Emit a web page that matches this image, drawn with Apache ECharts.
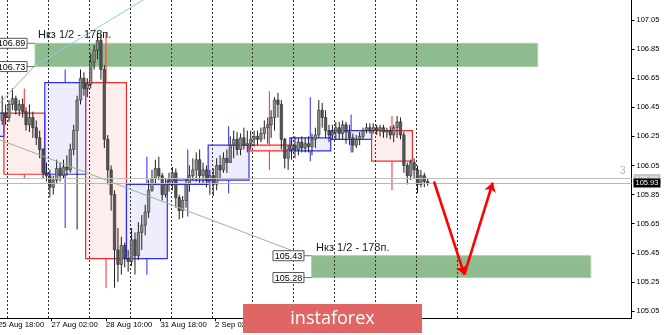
<!DOCTYPE html>
<html><head><meta charset="utf-8">
<script src="https://cdn.jsdelivr.net/npm/echarts@6/dist/echarts.min.js"></script>
<style>html,body{margin:0;padding:0;background:#fff}#c{width:665px;height:335px}</style>
</head><body><div id="c"></div>
<script>
// Time axis: trading hours counted from 25 Aug 18:00 (weekend skipped)
const xTickHours  = [0, 32, 64, 96, 128, 160, 192, 224];
const xTickLabels = ['25 Aug 18:00','27 Aug 02:00','28 Aug 10:00','31 Aug 18:00','2 Sep 02:00','3 Sep 10:00','4 Sep 18:00','8 Sep 02:00'];
const dayGridHours = [6, 30, 54, 78, 102, 126, 150, 174, 198, 222, 246, 270];
const yTickValues = [105.05,105.25,105.45,105.65,105.85,106.05,106.25,106.45,106.65,106.85,107.05];

// 2-hour candles (first one centred at hour 3)
const firstCandleHour = 3;
const candleO = [106.36,106.41,106.38,106.47,106.51,106.43,106.47,106.42,106.33,106.38,
106.31,106.24,106.16,106.00,105.98,105.90,105.95,106.03,105.98,106.04,
106.02,106.16,106.29,106.50,106.65,106.58,106.61,106.76,106.84,106.91,
106.71,106.23,106.02,105.85,105.47,105.37,105.50,105.41,105.39,105.54,
105.43,105.59,105.64,105.73,105.88,105.96,106.03,105.98,105.85,105.92,
105.94,106.00,105.83,105.74,105.81,105.92,105.98,106.02,106.09,105.98,
106.02,105.95,105.98,105.92,106.05,106.02,106.10,106.07,106.19,106.23,
106.16,106.24,106.19,106.20,106.23,106.25,106.23,106.27,106.31,106.33,
106.38,106.50,106.47,106.23,106.10,106.16,106.19,106.16,106.21,106.17,
106.20,106.18,106.23,106.26,106.43,106.38,106.29,106.26,106.28,106.31,
106.27,106.33,106.28,106.24,106.19,106.23,106.25,106.29,106.31,106.29,
106.31,106.29,106.31,106.28,106.29,106.26,106.31,106.35,106.26,106.05,
105.98,106.07,106.02,105.92,105.98,105.94];
const candleC = [106.41,106.38,106.47,106.51,106.43,106.47,106.42,106.33,106.38,106.31,
106.24,106.16,106.00,105.98,105.90,105.95,106.03,105.98,106.04,106.02,
106.16,106.29,106.50,106.65,106.58,106.61,106.76,106.84,106.91,106.71,
106.23,106.02,105.85,105.47,105.37,105.50,105.41,105.39,105.54,105.43,
105.59,105.64,105.73,105.88,105.96,106.03,105.98,105.85,105.92,105.94,
106.00,105.83,105.74,105.81,105.92,105.98,106.02,106.09,105.98,106.02,
105.95,105.98,105.92,106.05,106.02,106.10,106.07,106.19,106.23,106.16,
106.24,106.19,106.20,106.23,106.25,106.23,106.27,106.31,106.33,106.38,
106.50,106.47,106.23,106.10,106.16,106.19,106.16,106.21,106.17,106.20,
106.18,106.23,106.26,106.43,106.38,106.29,106.26,106.28,106.31,106.27,
106.33,106.28,106.24,106.19,106.23,106.25,106.29,106.31,106.29,106.31,
106.29,106.31,106.28,106.29,106.26,106.31,106.35,106.26,106.05,105.98,
106.07,106.02,105.92,105.98,105.94,105.93];
const candleH = [106.53,106.47,106.50,106.58,106.53,106.50,106.51,106.45,106.47,106.42,
106.36,106.29,106.17,106.07,106.02,105.98,106.09,106.07,106.09,106.12,
106.20,106.33,106.53,106.71,106.69,106.65,106.82,106.88,106.96,106.95,
106.74,106.26,106.05,105.88,105.62,105.56,105.52,105.47,105.62,105.59,
105.66,105.71,105.78,105.95,106.02,106.09,106.11,106.00,105.96,106.00,
106.04,106.03,105.85,105.84,105.96,106.05,106.10,106.14,106.16,106.07,
106.05,106.02,106.03,106.10,106.12,106.14,106.16,106.25,106.29,106.28,
106.27,106.31,106.29,106.29,106.29,106.29,106.31,106.36,106.38,106.43,
106.52,106.55,106.50,106.24,106.19,106.24,106.25,106.24,106.25,106.24,
106.25,106.27,106.31,106.50,106.48,106.43,106.33,106.33,106.35,106.35,
106.36,106.35,106.33,106.27,106.26,106.28,106.31,106.34,106.34,106.34,
106.33,106.33,106.33,106.31,106.32,106.33,106.39,106.38,106.28,106.07,
106.09,106.10,106.05,106.02,106.00,105.96];
const candleL = [106.33,106.33,106.35,106.43,106.40,106.39,106.38,106.29,106.28,106.24,
106.19,106.10,105.96,105.94,105.83,105.85,105.93,105.94,105.96,105.98,
106.00,106.12,105.61,106.47,106.53,106.52,106.58,106.71,106.78,106.64,
106.17,105.92,105.74,105.21,105.25,105.30,105.35,105.32,105.36,105.30,
105.40,105.47,105.57,105.69,105.87,105.92,105.95,105.81,105.83,105.87,
105.88,105.76,105.68,105.69,105.76,105.87,105.95,105.94,105.93,105.92,
105.90,105.85,105.84,105.88,105.96,106.00,106.00,106.07,106.10,106.12,
106.12,106.16,106.14,106.16,106.18,106.19,106.21,106.23,106.20,106.24,
106.29,106.38,106.16,106.03,106.02,106.09,106.10,106.12,106.14,106.14,
106.14,106.12,106.17,106.24,106.31,106.24,106.21,106.23,106.23,106.23,
106.23,106.20,106.19,106.14,106.17,106.19,106.23,106.27,106.27,106.27,
106.26,106.25,106.24,106.24,106.23,106.21,106.24,106.23,106.00,105.92,
105.95,105.96,105.86,105.90,105.90,105.91];

// Daily candles overlay (start hour, 24 h long)
const dayStart = [-20, 4, 28, 52, 76, 100, 124, 148, 172, 196, 220];
const dayOpen  = [106.25,106.41,105.99,106.62,105.41,105.92,105.95,106.19,106.15,106.23,106.29];
const dayClose = [106.41,105.99,106.62,105.41,105.92,105.95,106.19,106.15,106.24,106.29,106.08];
const dayHigh  = [106.50,106.58,106.71,106.96,106.11,106.16,106.32,106.56,106.52,106.40,106.39];
const dayLow   = [106.10,105.96,105.62,105.21,105.30,105.70,105.86,106.02,106.08,106.14,105.88];

// Target zones
const zoneStart = [22.3, 184.8];
const zoneEnd   = [317.6, 348.8];
const zoneLow   = [106.73, 105.28];
const zoneHigh  = [106.89, 105.43];

// Price tags
const tagPrice = [106.89, 106.73, 105.43, 105.28];
const tagHour  = [17.6, 17.6, 180.3, 180.3];
const tagLink  = [22.3, 22.3, 184.8, 184.8];

// Notes
const noteText  = ['Нкз 1/2 - 178п.', 'Нкз 1/2 - 178п.'];
const noteHour  = [24.0, 187.4];
const notePrice = [106.95, 105.482];

// Trend lines
const greenLines = [[[1.7, 106.226],[180.3, 105.435]], [[1.7, 106.48],[21.7, 106.73]]];
const blueLines  = [[[21.7, 106.73],[85.7, 107.1875]]];
const arrowLines = [[[256.7, 105.94],[274.5, 105.30]], [[274.5, 105.30],[291.2, 105.932]]];

const askPrice = 105.96, bidPrice = 105.93;

const FONT = 'Liberation Sans';
const X_MIN = 1.7, X_MAX = 372.73;
const chart = echarts.init(document.getElementById('c'), null, {renderer: 'canvas'});

const candleData = candleO.map((o, i) => [firstCandleHour + 2 * i, o, candleC[i], candleL[i], candleH[i]]);
const dayData = dayStart.map((s, i) => [s, s + 24, dayOpen[i], dayClose[i], dayHigh[i], dayLow[i]]);
const zoneData = zoneStart.map((s, i) => [s, zoneEnd[i], zoneLow[i], zoneHigh[i]]);
const tagData = tagPrice.map((p, i) => [tagHour[i], p, tagLink[i]]);
const noteData = noteText.map((t, i) => [noteHour[i], notePrice[i]]);

const option = {
  animation: false,
  backgroundColor: '#fff',
  grid: {left: 0, right: 33.5, top: 0, bottom: 16.7},
  xAxis: {
    type: 'value', min: X_MIN, max: X_MAX,
    axisLine: {show: true, lineStyle: {color: '#000', width: 1}},
    axisTick: {show: true, customValues: xTickHours.slice(1), length: 3, lineStyle: {color: '#000'}},
    axisLabel: {show: true, customValues: xTickHours.slice(1), align: 'left', margin: 3,
      formatter: v => xTickLabels[xTickHours.indexOf(v)] || '',
      fontSize: 7.8, fontFamily: FONT, color: '#000'},
    splitLine: {show: false}
  },
  yAxis: {
    type: 'value', position: 'right', min: 105.0, max: 107.1875,
    axisLine: {show: true, lineStyle: {color: '#000', width: 1}},
    axisTick: {show: true, customValues: yTickValues, length: 3, lineStyle: {color: '#000'}},
    axisLabel: {show: true, customValues: yTickValues, margin: 5,
      formatter: v => v.toFixed(2), fontSize: 7.5, fontFamily: FONT, color: '#000'},
    splitLine: {show: false}
  },
  series: [
    { // green zones
      type: 'custom', z: 1, clip: true, data: zoneData, encode: {x: [0, 1], y: [2, 3]},
      renderItem: (params, api) => {
        const a = api.coord([api.value(0), api.value(3)]);
        const b = api.coord([api.value(1), api.value(2)]);
        return {type: 'rect', shape: {x: a[0], y: a[1], width: b[0] - a[0], height: b[1] - a[1]},
          style: {fill: '#8fbc8f', stroke: '#aacfaa', lineWidth: 1}};
      }
    },
    { // daily candles
      type: 'custom', z: 2, clip: true, data: dayData, encode: {x: [0, 1], y: [2, 3, 4, 5]},
      renderItem: (params, api) => {
        const s = api.value(0), e = api.value(1), o = api.value(2), c = api.value(3), h = api.value(4), l = api.value(5);
        const bull = c >= o;
        const top = Math.max(o, c), bot = Math.min(o, c), mid = (s + e) / 2;
        const p1 = api.coord([s, top]), p2 = api.coord([e, bot]);
        const ph = api.coord([mid, h]), pt = api.coord([mid, top]), pb = api.coord([mid, bot]), pl = api.coord([mid, l]);
        const stroke = bull ? '#2f2ff5' : '#f02c2c';
        const wick = bull ? '#4a4aff' : '#ff4a4a';
        const fill = bull ? 'rgba(60,60,240,0.09)' : 'rgba(240,60,60,0.09)';
        return {type: 'group', children: [
          {type: 'line', shape: {x1: ph[0], y1: ph[1], x2: pt[0], y2: pt[1]}, style: {stroke: wick, lineWidth: 1.2}},
          {type: 'line', shape: {x1: pb[0], y1: pb[1], x2: pl[0], y2: pl[1]}, style: {stroke: wick, lineWidth: 1.2}},
          {type: 'rect', shape: {x: p1[0], y: p1[1], width: p2[0] - p1[0], height: Math.max(1, p2[1] - p1[1])},
            style: {fill: fill, stroke: stroke, lineWidth: 1.2}}
        ]};
      }
    },
    { // day grid lines (dotted)
      type: 'custom', z: 3, clip: true, data: dayGridHours.map(h => [h]), encode: {x: 0},
      renderItem: (params, api) => {
        const cs = params.coordSys;
        const p = api.coord([api.value(0), 106]);
        const x = Math.round(p[0]) + 0.5;
        return {type: 'line', shape: {x1: x, y1: cs.y, x2: x, y2: cs.y + cs.height},
          style: {stroke: '#333', lineWidth: 1, lineDash: [2, 2]}};
      }
    },
    { // candles
      type: 'custom', z: 4, clip: true, data: candleData, encode: {x: 0, y: [1, 2, 3, 4]},
      renderItem: (params, api) => {
        const t = api.value(0), o = api.value(1), c = api.value(2), l = api.value(3), h = api.value(4);
        const pO = api.coord([t, o]), pC = api.coord([t, c]), pL = api.coord([t, l]), pH = api.coord([t, h]);
        const w = api.size([2, 0])[0] * 0.72;
        const bull = c >= o;
        return {type: 'group', children: [
          {type: 'line', shape: {x1: pH[0], y1: pH[1], x2: pL[0], y2: pL[1]}, style: {stroke: '#1e1e1e', lineWidth: 1}},
          {type: 'rect', shape: {x: pO[0] - w / 2, y: Math.min(pO[1], pC[1]), width: w, height: Math.max(1, Math.abs(pO[1] - pC[1]))},
            style: {fill: bull ? '#8e8e8e' : '#555', stroke: '#2a2a2a', lineWidth: 0.6}}
        ]};
      }
    },
    { // green trend lines
      type: 'lines', coordinateSystem: 'cartesian2d', z: 5, polyline: false,
      data: greenLines.map(c => ({coords: c})),
      lineStyle: {color: '#8fbc8f', width: 1, opacity: 1}, symbol: 'none'
    },
    { // light blue trend line
      type: 'lines', coordinateSystem: 'cartesian2d', z: 5, polyline: false,
      data: blueLines.map(c => ({coords: c})),
      lineStyle: {color: '#87ceeb', width: 1, opacity: 1}, symbol: 'none'
    },
    { // red forecast arrows
      type: 'lines', coordinateSystem: 'cartesian2d', z: 6, polyline: false,
      data: arrowLines.map(c => ({coords: c})),
      lineStyle: {color: '#ff0000', width: 2.6, opacity: 1},
      symbol: ['none', 'arrow'], symbolSize: 9
    },
    { // bid / ask lines
      type: 'line', z: 6, data: [], silent: true,
      markLine: {
        silent: true, symbol: 'none', animation: false,
        data: [
          {yAxis: askPrice, lineStyle: {color: '#c0c0c0', type: 'solid', width: 1},
            label: {show: true, position: 'end', distance: 2, formatter: askPrice.toFixed(2),
              backgroundColor: '#c4c4c4', color: '#f4f4f4', padding: [1, 2, 0, 2], fontSize: 7.5, fontFamily: FONT}},
          {yAxis: bidPrice, lineStyle: {color: '#b8b8b8', type: 'solid', width: 1},
            label: {show: true, position: 'end', distance: 2, formatter: bidPrice.toFixed(2),
              backgroundColor: '#000', color: '#fff', padding: [1, 2, 0, 2], fontSize: 7.5, fontFamily: FONT}}
        ]
      }
    },
    { // price tags with leader lines
      type: 'custom', z: 7, clip: false, data: tagData, encode: {x: 0, y: 1},
      renderItem: (params, api) => {
        const p = api.coord([api.value(0), api.value(1)]);
        const q = api.coord([api.value(2), api.value(1)]);
        return {type: 'group', children: [
          {type: 'line', shape: {x1: p[0], y1: p[1], x2: q[0], y2: q[1]}, style: {stroke: '#707070', lineWidth: 1}},
          {type: 'rect', shape: {x: p[0] - 31, y: p[1] - 5, width: 31, height: 10},
            style: {fill: '#fff', stroke: '#555', lineWidth: 1}},
          {type: 'text', x: p[0] - 15.5, y: p[1] + 0.5,
            style: {text: api.value(1).toFixed(2), fill: '#000', fontSize: 9, fontFamily: FONT, align: 'center', verticalAlign: 'middle'}}
        ]};
      }
    },
    { // notes
      type: 'custom', z: 7, clip: false, data: noteData, encode: {x: 0, y: 1},
      renderItem: (params, api) => {
        const p = api.coord([api.value(0), api.value(1)]);
        return {type: 'text', x: p[0], y: p[1],
          style: {text: noteText[params.dataIndex], fill: '#1a1a1a', fontSize: 11, fontFamily: FONT, align: 'left', verticalAlign: 'middle'}};
      }
    }
  ],
  graphic: [
    // first time label lies left of the visible range, partly cut by the edge
    {type: 'text', x: (xTickHours[0] - X_MIN) * (631.5 / (X_MAX - X_MIN)) + 0.8, y: 321.3, z: 50,
      style: {text: xTickLabels[0], fill: '#000', fontSize: 7.8, fontFamily: FONT, align: 'left', verticalAlign: 'top'}},
    {type: 'text', x: 620, y: 166, z: 50, style: {text: '3', fill: '#b4b4b4', fontSize: 10, fontFamily: FONT}},
    {type: 'rect', z: 100, shape: {x: 243, y: 304, width: 179, height: 29}, style: {fill: '#e06666'}},
    {type: 'text', z: 101, x: 332.5, y: 318.5, style: {text: 'instaforex', fill: '#fff', fontSize: 18, fontFamily: 'Open Sans', align: 'center', verticalAlign: 'middle'}}
  ]
};
chart.setOption(option);
</script>
</body></html>
